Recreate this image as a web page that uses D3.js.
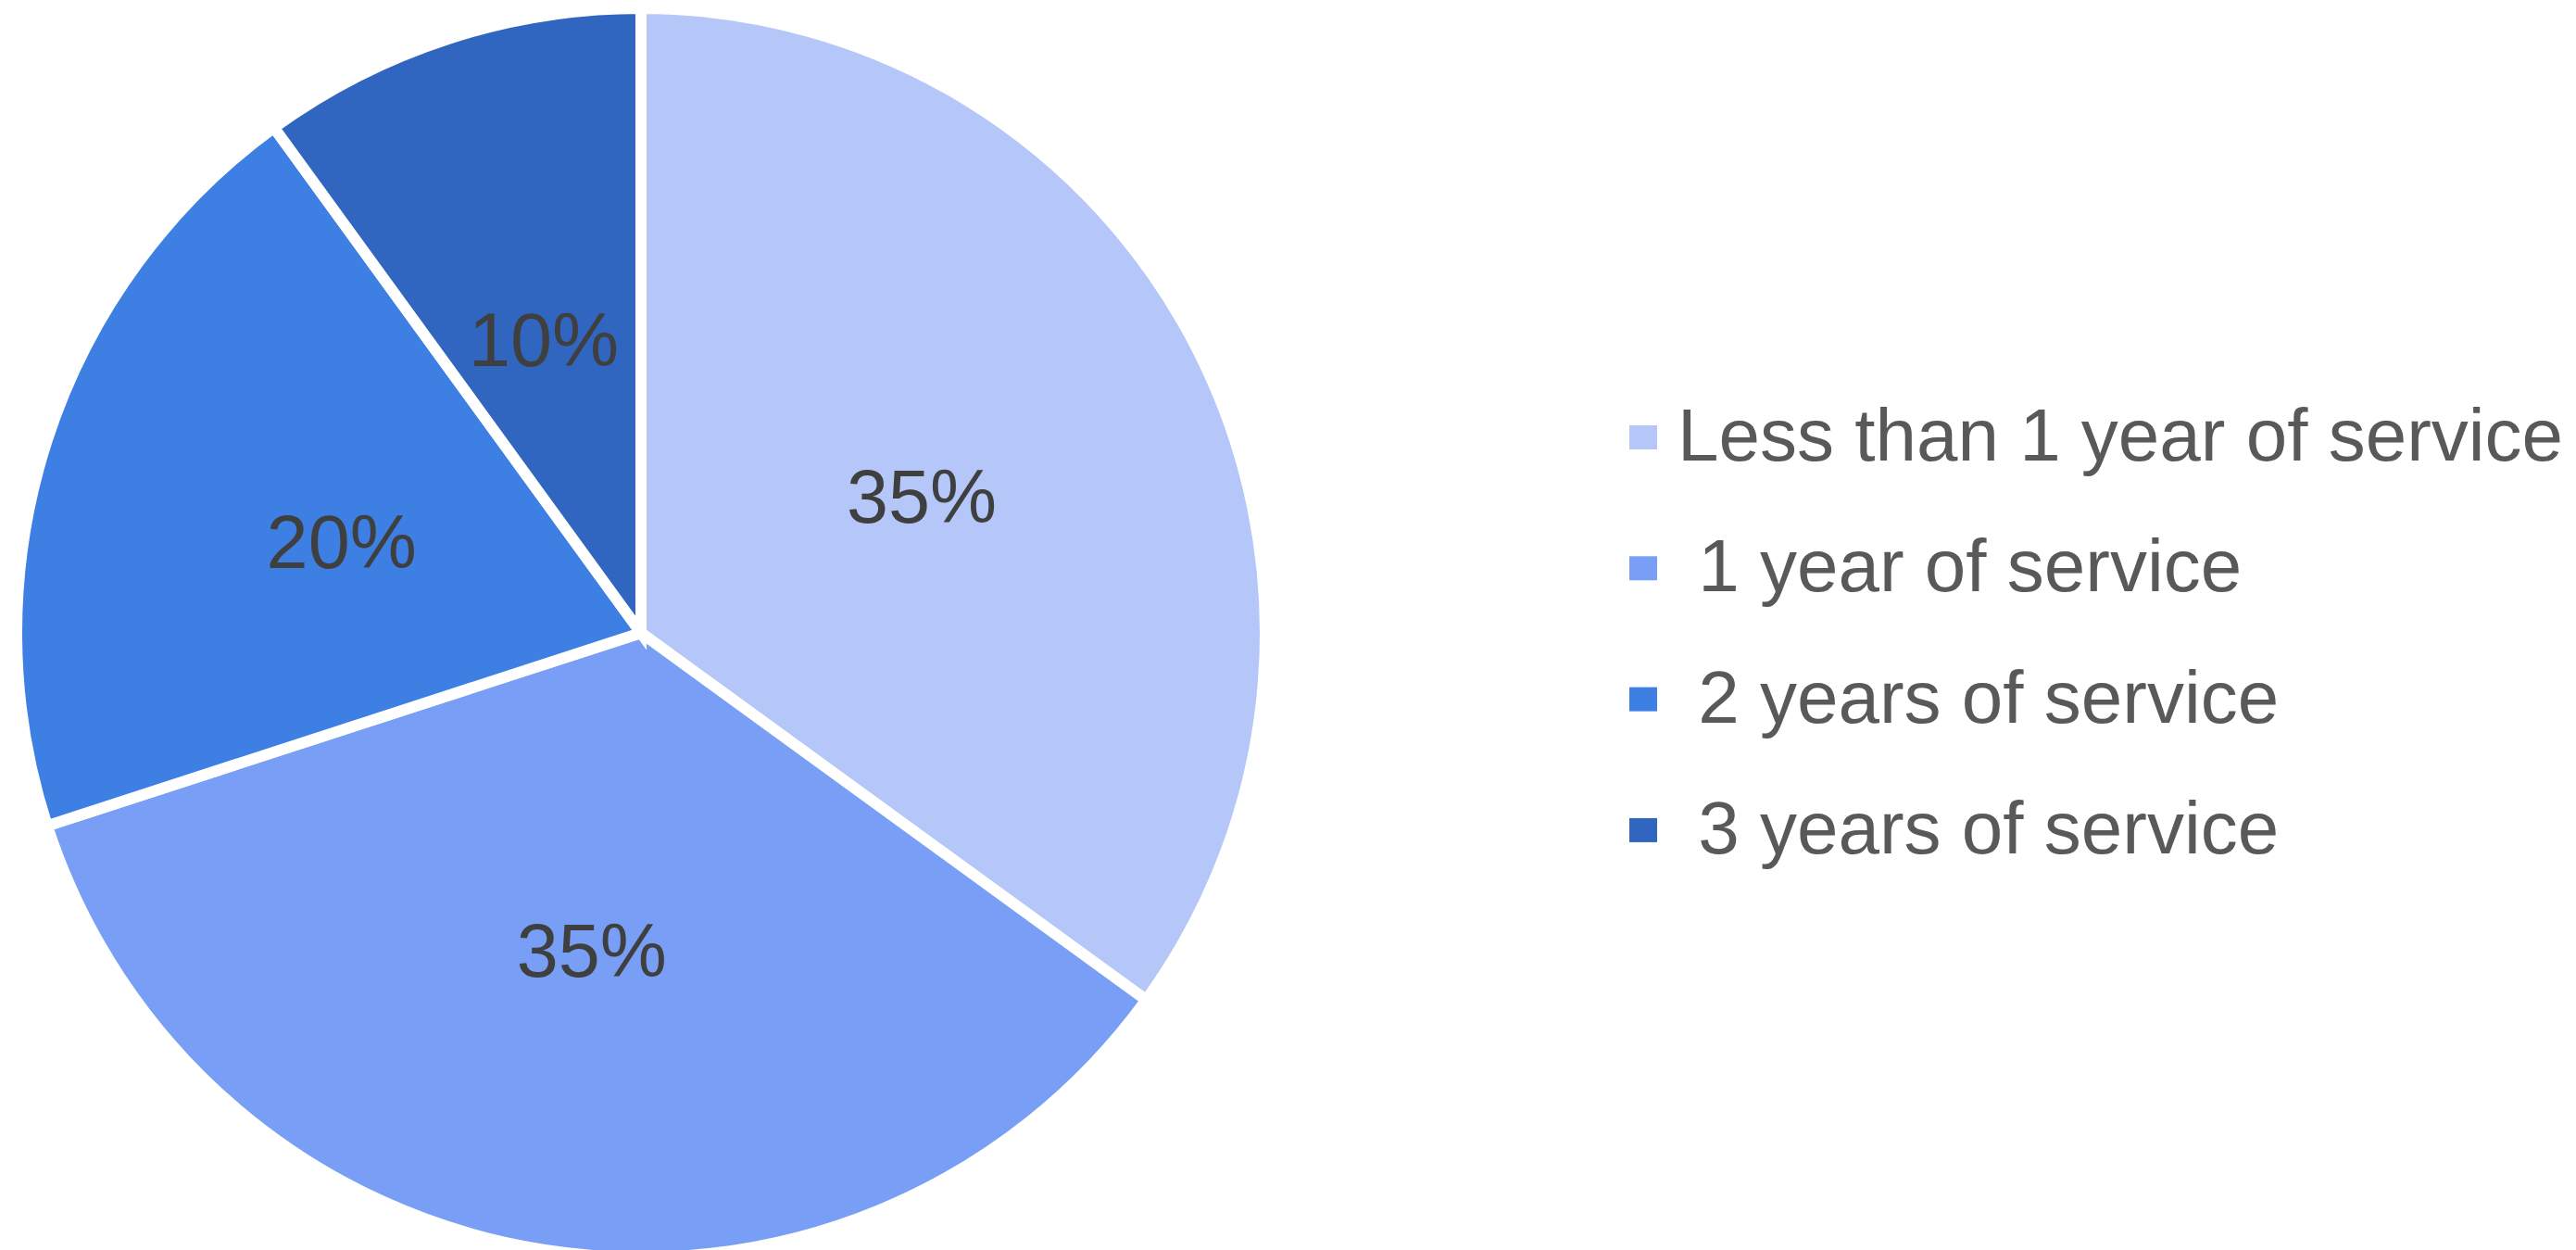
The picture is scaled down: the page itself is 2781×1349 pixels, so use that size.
<!DOCTYPE html>
<html>
<head>
<meta charset="utf-8">
<script src="https://cdn.jsdelivr.net/npm/d3@7"></script>
<style>
  html, body { margin: 0; padding: 0; background: #ffffff; }
  svg { display: block; }
  text { font-family: "Liberation Sans", Arial, sans-serif; white-space: pre; }
</style>
</head>
<body>
<svg id="chart" width="2781" height="1349"></svg>
<script>
// Share of staff by length of service
const categories = [
  "Less than 1 year of service",
  " 1 year of service",
  " 2 years of service",
  " 3 years of service"
];
const shares = [35, 35, 20, 10];
const sliceColors = ["#b5c7f8", "#789ff5", "#3d7fe3", "#3066bf"];

const data = categories.map((name, i) => ({ name, value: shares[i] }));

const svg = d3.select("#chart");

const cx = 692, cy = 683, R = 674;
const labelR = 340;
const fontSize = 81;

const color = d3.scaleOrdinal().domain(categories).range(sliceColors);

const pie = d3.pie()
  .value(d => d.value)
  .sort(null)
  .startAngle(0)
  .endAngle(2 * Math.PI);

const arc = d3.arc().innerRadius(0).outerRadius(R);
const labelArc = d3.arc().innerRadius(labelR).outerRadius(labelR);

const arcs = pie(data);

const g = svg.append("g").attr("transform", `translate(${cx},${cy})`);

g.selectAll("path.slice")
  .data(arcs)
  .join("path")
  .attr("class", "slice")
  .attr("d", arc)
  .attr("fill", d => color(d.data.name))
  .attr("stroke", "#ffffff")
  .attr("stroke-width", 12)
  .attr("stroke-linejoin", "miter");

// Percentage labels inside the slices
const total = d3.sum(shares);
g.selectAll("text.pct")
  .data(arcs)
  .join("text")
  .attr("class", "pct")
  .attr("x", d => labelArc.centroid(d)[0])
  .attr("y", d => labelArc.centroid(d)[1] + fontSize * 0.716 / 2 + 6)
  .attr("text-anchor", "middle")
  .attr("font-size", fontSize)
  .attr("fill", "#3f3f3f")
  .text(d => d3.format(".0%")(d.data.value / total));

// Legend
const legendX = 1759, legendY0 = 497, rowGap = 141.3;
const legend = svg.append("g");
const rows = legend.selectAll("g.row")
  .data(data)
  .join("g")
  .attr("class", "row")
  .attr("transform", (d, i) => `translate(${legendX},${legendY0 + i * rowGap})`);

rows.append("rect")
  .attr("x", 0)
  .attr("y", -38)
  .attr("width", 30)
  .attr("height", 26)
  .attr("fill", d => color(d.name));

rows.append("text")
  .attr("x", 52)
  .attr("y", 0)
  .attr("font-size", 80)
  .attr("fill", "#595959")
  .text(d => d.name);
</script>
</body>
</html>
